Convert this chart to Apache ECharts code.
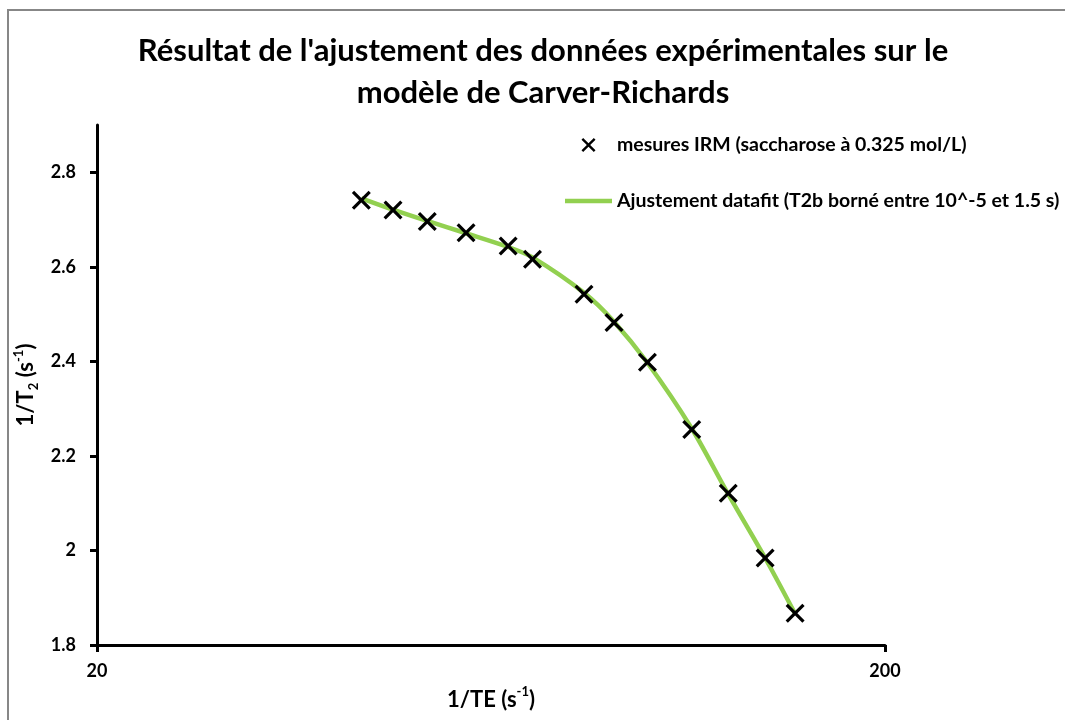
<!DOCTYPE html>
<html>
<head>
<meta charset="utf-8">
<script src="https://cdn.jsdelivr.net/npm/echarts@6/dist/echarts.min.js"></script>
<style>
  html, body { margin: 0; padding: 0; background: #fff; }
  #chart { width: 1065px; height: 720px; }
</style>
</head>
<body>
<div id="chart"></div>
<script>
// Inverse echo time 1/TE (s^-1) of each measurement
const invTE = [43.3, 47.5, 52.5, 58.8, 66.5, 71.4, 83.0, 90.6, 99.9, 113.7, 126.5, 140.9, 153.8];
// Measured relaxation rate 1/T2 (s^-1)
const invT2Measured = [2.741, 2.720, 2.696, 2.672, 2.644, 2.616, 2.542, 2.482, 2.398, 2.256, 2.121, 1.984, 1.867];
// Carver-Richards fitted curve at the same 1/TE values
const invT2Fit = [2.745, 2.721, 2.697, 2.671, 2.642, 2.620, 2.545, 2.484, 2.397, 2.258, 2.119, 1.984, 1.866];

const xTicks = [20, 200];
const yTicks = [1.8, 2, 2.2, 2.4, 2.6, 2.8];

const seriesNames = [
  'mesures IRM (saccharose à 0.325 mol/L)',
  'Ajustement datafit (T2b borné entre 10^-5 et 1.5 s)'
];
const titleText = "Résultat de l'ajustement des données expérimentales sur le\nmodèle de Carver-Richards";

const FONT = 'Lato';
const CROSS = 'path://M12,0L50,38L88,0L100,12L62,50L100,88L88,100L50,62L12,100L0,88L38,50L0,12Z';
const THICK_LINE = 'path://M0,0H47V4.5H0Z';

const measured = invTE.map((x, i) => [x, invT2Measured[i]]);
const fitted = invTE.map((x, i) => [x, invT2Fit[i]]);

const chart = echarts.init(document.getElementById('chart'), null, { renderer: 'canvas' });

chart.setOption({
  backgroundColor: '#ffffff',
  animation: false,
  textStyle: { fontFamily: FONT },
  graphic: [{
    type: 'rect',
    shape: { x: 8, y: 10, width: 1200, height: 800 },
    style: { fill: 'none', stroke: '#878787', lineWidth: 2 },
    silent: true,
    z: -10
  }],
  title: {
    text: titleText,
    left: 543,
    textAlign: 'center',
    top: 30,
    padding: 0,
    textStyle: {
      fontFamily: FONT,
      fontSize: 31,
      fontWeight: 'bold',
      color: '#000',
      lineHeight: 42
    }
  },
  legend: {
    orient: 'vertical',
    left: 560,
    top: 130,
    itemWidth: 47,
    itemHeight: 14,
    itemGap: 36,
    textStyle: { fontFamily: FONT, fontSize: 19.5, fontWeight: 'bold', color: '#000', lineHeight: 14 },
    data: [
      { name: seriesNames[0], icon: CROSS, itemStyle: { color: '#000' } },
      { name: seriesNames[1], icon: THICK_LINE, itemStyle: { color: '#92D050' } }
    ]
  },
  grid: { left: 97, right: 180, top: 125, bottom: 75, containLabel: false },
  xAxis: {
    type: 'log',
    logBase: 10,
    min: 20,
    max: 200,
    name: '{b|1/TE (s}{sup|-1}{b|)}',
    nameLocation: 'middle',
    nameGap: 30,
    nameTextStyle: {
      rich: {
        b: { fontFamily: FONT, fontSize: 22, fontWeight: 'bold', color: '#000', lineHeight: 26, verticalAlign: 'bottom' },
        sup: { fontFamily: FONT, fontSize: 13, fontWeight: 'bold', color: '#000', verticalAlign: 'top', lineHeight: 14 }
      }
    },
    axisLine: { show: true, lineStyle: { color: '#000', width: 3 } },
    axisTick: { show: true, inside: false, length: 7, customValues: xTicks, lineStyle: { color: '#000', width: 3 } },
    minorTick: { show: false },
    axisLabel: { customValues: xTicks, margin: 17, fontFamily: FONT, fontSize: 18, fontWeight: 'bold', color: '#000' },
    splitLine: { show: false }
  },
  yAxis: {
    type: 'value',
    min: 1.8,
    max: 2.9,
    interval: 0.2,
    name: '{b|1/T}{sub|2}{b| (s}{sup|-1}{b|)}',
    nameLocation: 'middle',
    nameRotate: 90,
    nameGap: 43,
    nameTextStyle: {
      rich: {
        b: { fontFamily: FONT, fontSize: 22, fontWeight: 'bold', color: '#000', lineHeight: 28 },
        sub: { fontFamily: FONT, fontSize: 13, fontWeight: 'bold', color: '#000', verticalAlign: 'bottom', lineHeight: 12 },
        sup: { fontFamily: FONT, fontSize: 13, fontWeight: 'bold', color: '#000', verticalAlign: 'top', lineHeight: 12 }
      }
    },
    axisLine: { show: true, lineStyle: { color: '#000', width: 3 } },
    axisTick: { show: true, inside: false, length: 7, customValues: yTicks, lineStyle: { color: '#000', width: 3 } },
    axisLabel: { customValues: yTicks, margin: 21, fontFamily: FONT, fontSize: 18, fontWeight: 'bold', color: '#000' },
    splitLine: { show: false }
  },
  series: [
    {
      name: seriesNames[1],
      type: 'line',
      data: fitted,
      smooth: 0.3,
      symbol: 'none',
      showSymbol: false,
      lineStyle: { color: '#92D050', width: 4.5 },
      itemStyle: { color: '#92D050' },
      z: 2
    },
    {
      name: seriesNames[0],
      type: 'scatter',
      data: measured,
      symbol: CROSS,
      symbolSize: 19,
      itemStyle: { color: '#000', opacity: 1 },
      z: 3
    }
  ]
});
</script>
</body>
</html>
